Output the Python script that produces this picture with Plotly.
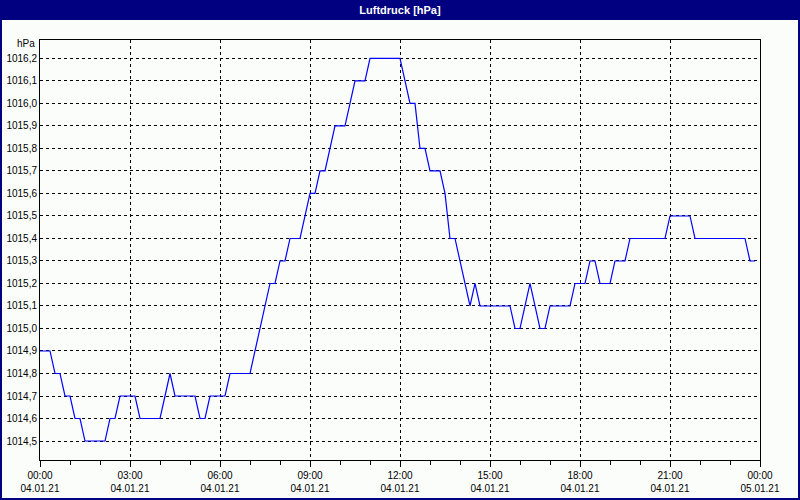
import pandas as pd
import plotly.graph_objects as go

# ---- data ----
start_time = "2021-01-04 00:00"
step = "10min"
pressure = [
    1014.9, 1014.9, 1014.9, 1014.8, 1014.8, 1014.7, 1014.7, 1014.6, 1014.6, 1014.5,
    1014.5, 1014.5, 1014.5, 1014.5, 1014.6, 1014.6, 1014.7, 1014.7, 1014.7, 1014.7,
    1014.6, 1014.6, 1014.6, 1014.6, 1014.6, 1014.7, 1014.8, 1014.7, 1014.7, 1014.7,
    1014.7, 1014.7, 1014.6, 1014.6, 1014.7, 1014.7, 1014.7, 1014.7, 1014.8, 1014.8,
    1014.8, 1014.8, 1014.8, 1014.9, 1015.0, 1015.1, 1015.2, 1015.2, 1015.3, 1015.3,
    1015.4, 1015.4, 1015.4, 1015.5, 1015.6, 1015.6, 1015.7, 1015.7, 1015.8, 1015.9,
    1015.9, 1015.9, 1016.0, 1016.1, 1016.1, 1016.1, 1016.2, 1016.2, 1016.2, 1016.2,
    1016.2, 1016.2, 1016.2, 1016.1, 1016.0, 1016.0, 1015.8, 1015.8, 1015.7, 1015.7,
    1015.7, 1015.6, 1015.4, 1015.4, 1015.3, 1015.2, 1015.1, 1015.2, 1015.1, 1015.1,
    1015.1, 1015.1, 1015.1, 1015.1, 1015.1, 1015.0, 1015.0, 1015.1, 1015.2, 1015.1,
    1015.0, 1015.0, 1015.1, 1015.1, 1015.1, 1015.1, 1015.1, 1015.2, 1015.2, 1015.2,
    1015.3, 1015.3, 1015.2, 1015.2, 1015.2, 1015.3, 1015.3, 1015.3, 1015.4, 1015.4,
    1015.4, 1015.4, 1015.4, 1015.4, 1015.4, 1015.4, 1015.5, 1015.5, 1015.5, 1015.5,
    1015.5, 1015.4, 1015.4, 1015.4, 1015.4, 1015.4, 1015.4, 1015.4, 1015.4, 1015.4,
    1015.4, 1015.4, 1015.3, 1015.3,
]
x_tick_values = [
    "2021-01-04 00:00", "2021-01-04 03:00", "2021-01-04 06:00", "2021-01-04 09:00",
    "2021-01-04 12:00", "2021-01-04 15:00", "2021-01-04 18:00", "2021-01-04 21:00",
    "2021-01-05 00:00",
]
x_tick_times = ["00:00", "03:00", "06:00", "09:00", "12:00", "15:00", "18:00", "21:00", "00:00"]
x_tick_dates = ["04.01.21"] * 8 + ["05.01.21"]
y_tick_values = [1014.5, 1014.6, 1014.7, 1014.8, 1014.9, 1015.0, 1015.1, 1015.2, 1015.3,
                 1015.4, 1015.5, 1015.6, 1015.7, 1015.8, 1015.9, 1016.0, 1016.1, 1016.2]
y_tick_labels = ["1014,5", "1014,6", "1014,7", "1014,8", "1014,9", "1015,0", "1015,1",
                 "1015,2", "1015,3", "1015,4", "1015,5", "1015,6", "1015,7", "1015,8",
                 "1015,9", "1016,0", "1016,1", "1016,2"]
title_text = "Luftdruck [hPa]"
unit_text = "hPa"

times = pd.date_range(start_time, periods=len(pressure), freq=step)

W, H = 800, 500
L, R, T, B = 40, 40, 40, 40
PW, PH = W - L - R, H - T - B
NAVY = "#000080"
BG = "#FBFDFB"
FONT = "Liberation Sans"


def px_x(x):
    return (x - L) / PW


def px_y(y):
    return (H - B - y) / PH


fig = go.Figure()
fig.add_trace(go.Scatter(
    x=times, y=pressure, mode="lines",
    line=dict(color="#0000FF", width=1.2),
    hoverinfo="x+y", showlegend=False,
))

fig.update_layout(
    width=W, height=H,
    margin=dict(l=L, r=R, t=T, b=B, pad=0, autoexpand=False),
    paper_bgcolor=BG, plot_bgcolor=BG,
    font=dict(family=FONT, size=10, color="black"),
    title=dict(text="<b>" + title_text + "</b>", x=0.5, xanchor="center",
               y=1 - 10.5 / H, yanchor="middle", yref="container",
               font=dict(family=FONT, size=11, color="white")),
    showlegend=False,
)

fig.update_xaxes(
    type="date", automargin=False,
    range=[x_tick_values[0], x_tick_values[-1]],
    tickmode="array",
    tickvals=x_tick_values,
    ticktext=[t + "<br>" + d for t, d in zip(x_tick_times, x_tick_dates)],
    ticks="outside", ticklen=6, tickcolor="black", tickwidth=1,
    minor=dict(dtick=3600000, ticks="outside", ticklen=4, tickcolor="black", showgrid=False),
    showgrid=True, gridcolor="black", gridwidth=1, griddash="3px,3px",
    showline=True, linecolor="black", linewidth=1, mirror=True,
    zeroline=False, tickangle=0,
    tickfont=dict(family=FONT, size=10, color="black"),
)
fig.update_yaxes(
    automargin=False,
    range=[1014.4156, 1016.282],
    tickmode="array",
    tickvals=y_tick_values,
    ticktext=y_tick_labels,
    ticks="",
    showgrid=True, gridcolor="black", gridwidth=1, griddash="3px,3px",
    showline=True, linecolor="black", linewidth=1, mirror=True,
    zeroline=False,
    tickfont=dict(family=FONT, size=10, color="black"),
)

# window frame and title bar
fig.add_shape(type="rect", xref="paper", yref="paper",
              x0=px_x(0), x1=px_x(W), y0=px_y(20), y1=px_y(0),
              fillcolor=NAVY, line=dict(width=0), layer="below")
fig.add_shape(type="rect", xref="paper", yref="paper",
              x0=px_x(1), x1=px_x(W - 1), y0=px_y(H - 1), y1=px_y(1),
              fillcolor="rgba(0,0,0,0)", line=dict(color=NAVY, width=2), layer="above")

fig.add_annotation(text=unit_text, xref="paper", yref="paper",
                   x=px_x(37), y=px_y(44), xanchor="right", yanchor="middle",
                   showarrow=False, font=dict(family=FONT, size=10, color="black"))

fig.write_html("out.html", config={"displayModeBar": False},
               post_script="document.body.style.margin='0';document.body.style.overflow='hidden';")
